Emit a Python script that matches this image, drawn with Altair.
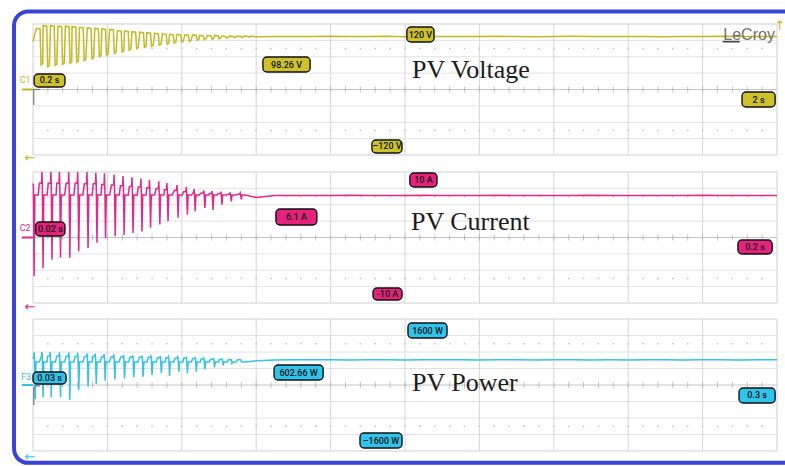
import altair as alt
import numpy as np
import pandas as pd

# ---------------- values ----------------
# PV Voltage (V), channel C1, screen spans -120 V .. 120 V
volt_start = 88
volt_peak_t = [0.009, 0.027, 0.047, 0.067, 0.087, 0.105, 0.125, 0.146, 0.166, 0.185,
               0.206, 0.227, 0.246, 0.266, 0.287, 0.306, 0.327, 0.348, 0.367, 0.387,
               0.408, 0.429, 0.448, 0.469, 0.488, 0.508, 0.529, 0.549, 0.569]
volt_high = [112, 117, 117, 116, 116, 115, 114, 113, 112, 111,
             110, 108, 107, 106, 105, 104, 103, 102, 101, 101,
             100, 100, 99, 99, 99, 98, 98, 98, 98]
volt_low = [45, 42, 44, 46, 48, 50, 53, 56, 60, 63,
            66, 69, 72, 75, 77, 79, 81, 83, 85, 87,
            88, 90, 91, 92, 93, 94, 95, 95, 96]

tail_t = [0.60, 0.65, 0.70, 0.75, 0.80, 0.85, 0.90, 0.95, 1.00, 1.05,
          1.10, 1.15, 1.20, 1.25, 1.30, 1.35, 1.40, 1.45, 1.50, 1.55,
          1.60, 1.65, 1.70, 1.75, 1.80, 1.85, 1.90, 1.95, 2.00]
volt_tail = [96.8, 97.3, 96.9, 97.1, 97.6, 96.9, 97.2, 97.4, 96.8, 97.0,
             97.3, 97.1, 96.9, 97.5, 97.0, 96.8, 97.2, 97.4, 97.0, 96.9,
             97.3, 97.1, 96.8, 97.2, 97.0, 97.4, 96.9, 97.1, 97.0]

# PV Current (A), channel C2, screen spans -10 A .. 10 A
cur_start = 8.0
cur_spike_t = [0.003, 0.027, 0.051, 0.074, 0.099, 0.123, 0.148, 0.172, 0.195, 0.221,
               0.245, 0.269, 0.293, 0.316, 0.341, 0.363, 0.390, 0.415, 0.436, 0.462,
               0.484, 0.508, 0.533, 0.560]
cur_top = [9.9, 10.0, 10.0, 10.0, 10.0, 10.0, 10.0, 9.9, 9.8, 9.6,
           9.4, 9.2, 9.0, 8.8, 8.6, 8.3, 8.0, 7.7, 7.4, 7.2,
           7.1, 7.0, 6.9, 6.8]
cur_plat = [8.2, 8.3, 8.3, 8.3, 8.3, 8.3, 8.2, 8.2, 8.1, 8.0,
            7.9, 7.8, 7.7, 7.6, 7.5, 7.3, 7.2, 7.0, 6.9, 6.8,
            6.7, 6.7, 6.6, 6.6]
cur_low = [-5.9, -4.7, -3.4, -3.1, -3.1, -2.1, -1.6, -0.8, -0.1, 0.2,
           0.4, 0.7, 0.9, 1.5, 2.0, 2.5, 3.0, 3.5, 4.0, 4.5,
           4.2, 5.0, 5.5, 5.8]
cur_mid = 6.5
cur_tail = [6.1, 6.4, 6.4, 6.4, 6.4, 6.45, 6.4, 6.4, 6.4, 6.45,
            6.4, 6.4, 6.4, 6.45, 6.4, 6.4, 6.4, 6.4, 6.45, 6.4,
            6.4, 6.4, 6.4, 6.4, 6.45, 6.4, 6.4, 6.4, 6.4]

# PV Power (W), channel F3, screen spans -1600 W .. 1600 W
pow_start = 640
pow_spike_t = [0.006, 0.027, 0.049, 0.074, 0.099, 0.123, 0.148, 0.170, 0.194, 0.220,
               0.246, 0.271, 0.296, 0.320, 0.345, 0.367, 0.392, 0.415, 0.439, 0.462,
               0.488, 0.511, 0.535, 0.560]
pow_top = [790, 800, 800, 790, 790, 780, 770, 760, 750, 740,
           730, 720, 710, 700, 700, 690, 680, 670, 660, 650,
           640, 630, 620, 615]
pow_plat = [700, 700, 700, 700, 700, 690, 690, 690, 680, 680,
            680, 680, 670, 670, 660, 660, 650, 650, 640, 630,
            625, 620, 615, 610]
pow_low = [-347, -299, -299, -299, -364, -121, -40, 24, 105, 137,
           161, 186, 202, 242, 283, 218, 323, 283, 323, 380,
           428, 477, 525, 566]
pow_mid = 560
pow_tail = [590, 608, 610, 610, 612, 608, 610, 610, 608, 612,
            610, 611, 608, 610, 612, 608, 610, 612, 609, 611,
            608, 612, 610, 608, 611, 610, 608, 611, 610]

# ---------------- build trace tables ----------------
def add(rows, t, v):
    if t > rows[-1][0]:
        rows.append((t, v))

def square_trace(start, peak_t, high, low, tail_v):
    rows = [(0.0, start)]
    for tp, hi, lo in zip(peak_t, high, low):
        add(rows, tp, hi)
        add(rows, tp + 0.010, hi - 1)
        add(rows, tp + 0.0125, lo)
        add(rows, tp + 0.0170, lo + 2)
    for t, v in zip(tail_t, tail_v):
        add(rows, t, v)
    df = pd.DataFrame(rows, columns=["t", "v"])
    df["i"] = range(len(df))
    return df

def spiky_trace(start, spike_t, top, plat, low, mid, tail_v):
    rows = [(0.0, start)]
    for td, tp, pl, lo in zip(spike_t, top, plat, low):
        add(rows, td - 0.010, pl)
        add(rows, td - 0.004, pl)
        add(rows, td - 0.003, tp)
        add(rows, td - 0.002, pl)
        add(rows, td, lo)
        add(rows, td + 0.002, mid)
        add(rows, td + 0.011, mid)
    for t, v in zip(tail_t, tail_v):
        add(rows, t, v)
    df = pd.DataFrame(rows, columns=["t", "v"])
    df["i"] = range(len(df))
    return df

volt_df = square_trace(volt_start, volt_peak_t, volt_high, volt_low, volt_tail)
cur_df = spiky_trace(cur_start, cur_spike_t, cur_top, cur_plat, cur_low, cur_mid, cur_tail)
pow_df = spiky_trace(pow_start, pow_spike_t, pow_top, pow_plat, pow_low, pow_mid, pow_tail)

# ---------------- styling ----------------
YEL, YEL_BOX = "#c4b824", "#cdc22e"
PNK, PNK_BOX = "#e3288a", "#e5237c"
CYN, CYN_BOX = "#33c2e8", "#2fc4ec"
BOX_FONT = "Roboto, Liberation Sans, sans-serif"

XS = alt.Scale(domain=[0, 2], range=[33, 777], nice=False, zero=False)


def panel(m, top, bottom, trace, color, box_fill, boxes, title, chan, extra=None):
    YS = alt.Scale(domain=[-m, m], range=[bottom, top], nice=False, zero=False)
    x = lambda f: alt.X(f, type="quantitative", scale=XS, axis=None)
    y = lambda f: alt.Y(f, type="quantitative", scale=YS, axis=None)
    layers = []
    if extra is not None:
        layers += extra(x, y)

    border = pd.DataFrame({"x1": [0], "x2": [2], "y1": [-m], "y2": [m]})
    layers.append(alt.Chart(border).mark_rect(fill="white", stroke="#cfcfcf", strokeWidth=1)
                  .encode(x=x("x1"), x2="x2", y=y("y1"), y2="y2"))
    hl = pd.DataFrame({"v": [k * m / 4 for k in (-3, -2, -1, 1, 2, 3)], "a": 0, "b": 2})
    layers.append(alt.Chart(hl).mark_rule(color="#e2e2e2", strokeWidth=1)
                  .encode(x=x("a"), x2="b", y=y("v")))
    vl = pd.DataFrame({"t": [0.2 * k for k in range(1, 10)], "a": -m, "b": m})
    layers.append(alt.Chart(vl).mark_rule(color="#d6d6d6", strokeWidth=1)
                  .encode(x=x("t"), y=y("a"), y2="b"))
    cl = pd.DataFrame({"a": [0], "b": [2], "v": [0]})
    layers.append(alt.Chart(cl).mark_rule(color="#c4c4c4", strokeWidth=1)
                  .encode(x=x("a"), x2="b", y=y("v")))
    tk = pd.DataFrame({"t": [0.04 * k for k in range(1, 50)], "v": 0.0})
    layers.append(alt.Chart(tk).mark_tick(orient="vertical", size=6, thickness=1, color="#a9a9a9")
                  .encode(x=x("t"), y=y("v")))
    dots = pd.DataFrame({"t": [0.04 * k for k in range(1, 50)] * 2,
                         "v": [0.625 * m] * 49 + [-0.625 * m] * 49})
    layers.append(alt.Chart(dots).mark_square(size=2, color="#bdbdbd", opacity=1)
                  .encode(x=x("t"), y=y("v")))

    # trace
    layers.append(alt.Chart(trace).mark_line(color=color, strokeWidth=1.5, interpolate="linear")
                  .encode(x=x("t"), y=y("v"), order="i:Q"))

    # channel marker
    cm = pd.DataFrame({"a": [-0.030], "b": [0.0], "v": [0.0]})
    layers.append(alt.Chart(cm).mark_rule(color=color, strokeWidth=2)
                  .encode(x=x("a"), x2="b", y=y("v")))
    ct = pd.DataFrame([chan], columns=["label", "t", "v"])
    layers.append(alt.Chart(ct).mark_text(color=color, fontSize=9, font=BOX_FONT)
                  .encode(x=x("t"), y=y("v"), text="label:N"))

    # boxes
    bx = pd.DataFrame(boxes, columns=["label", "x1", "x2", "y1", "y2"])
    bx["xm"] = (bx.x1 + bx.x2) / 2
    bx["ym"] = (bx.y1 + bx.y2) / 2
    layers.append(alt.Chart(bx).mark_rect(fill=box_fill, stroke="#111111", strokeWidth=1.4,
                                          cornerRadius=4)
                  .encode(x=x("x1"), x2="x2", y=y("y1"), y2="y2"))
    layers.append(alt.Chart(bx).mark_text(color="#111111", fontSize=9, font=BOX_FONT,
                                          fontWeight=500, baseline="middle", align="center")
                  .encode(x=x("xm"), y=y("ym"), text="label:N"))

    # big title
    tt = pd.DataFrame([title], columns=["label", "t", "v"])
    layers.append(alt.Chart(tt).mark_text(color="#1c1c1c", fontSize=26,
                                          font="Liberation Serif, Times New Roman, serif",
                                          align="left", baseline="alphabetic")
                  .encode(x=x("t"), y=y("v"), text="label:N"))
    return alt.layer(*layers)


def extra1(x, y):
    frame = pd.DataFrame({"x1": [-0.051], "x2": [2.3], "y1": [142.9], "y2": [-684.0]})
    return [alt.Chart(frame).mark_rect(fill="white", stroke="#3a43d8", strokeWidth=4,
                                       cornerRadius=14)
            .encode(x=x("x1"), x2="x2", y=y("y1"), y2="y2")]


p1 = panel(120, 24, 155, volt_df, YEL, YEL_BOX,
           [("0.2 s", 0.003, 0.086, 28.4, 4.6),
            ("98.26 V", 0.618, 0.745, 59.5, 32.1),
            ("120 V", 1.005, 1.078, 114.5, 87.0),
            ("–120 V", 0.911, 0.992, -92.5, -116.3),
            ("2 s", 1.906, 1.995, -4.6, -32.1)],
           ("PV Voltage", 1.019, 20.5), ("C1", -0.021, 17.4), extra=extra1)

p2 = panel(10, 172, 303, cur_df, PNK, PNK_BOX,
           [("0.02 s", 0.007, 0.086, 2.37, 0.23),
            ("6.1 A", 0.653, 0.763, 4.35, 1.91),
            ("10 A", 1.013, 1.086, 9.85, 7.71),
            ("-10 A", 0.914, 0.992, -7.71, -9.54),
            ("0.2 s", 1.895, 1.987, -0.38, -2.52)],
           ("PV Current", 1.016, 1.07), ("C2", -0.021, 1.45))

p3 = panel(1600, 319, 451, pow_df, CYN, CYN_BOX,
           [("0.03 s", 0.0, 0.089, 315, 24),
            ("602.66 W", 0.648, 0.780, 485, 121),
            ("1600 W", 1.008, 1.113, 1503, 1139),
            ("–1600 W", 0.879, 0.992, -1164, -1527),
            ("0.3 s", 1.898, 1.995, -73, -436)],
           ("PV Power", 1.019, -145), ("F3", -0.019, 194))

# ---- small overlays (markers, arrows, logo) in each panel's own units ----
def overlay(m, top, bottom, rules, texts):
    YS = alt.Scale(domain=[-m, m], range=[bottom, top], nice=False, zero=False)
    x = lambda f: alt.X(f, type="quantitative", scale=XS, axis=None)
    y = lambda f: alt.Y(f, type="quantitative", scale=YS, axis=None)
    ls = []
    if rules:
        r = pd.DataFrame(rules, columns=["a", "b", "c", "d", "color", "w"])
        ls.append(alt.Chart(r).mark_rule().encode(
            x=x("a"), x2="b", y=y("c"), y2="d",
            color=alt.Color("color:N", scale=None),
            strokeWidth=alt.StrokeWidth("w:Q", scale=None)))
    if texts:
        tx = pd.DataFrame(texts, columns=["label", "t", "v", "color", "size", "font"])
        for _, row in tx.iterrows():
            ls.append(alt.Chart(pd.DataFrame([row])).mark_text(
                color=row["color"], fontSize=float(row["size"]), font=row["font"],
                align="center", baseline="middle")
                .encode(x=x("t"), y=y("v"), text="label:N"))
    return alt.layer(*ls)

SANS = "DejaVu Sans, sans-serif"
o1 = overlay(120, 24, 155,
             [(0.002, 0.002, 0.0, -28.4, "#777777", 1.2),
              (0.002, 0.019, 0.0, 0.0, "#777777", 1.2),
              (1.854, 1.90, 87.6, 87.6, "#444444", 1.6)],
             [("↑", 2.007, 116, YEL, 13, SANS),
              ("←", -0.008, -125.5, YEL, 13, SANS),
              ("LeCroy", 1.925, 99, "#6f6f6f", 16, "Liberation Sans, Arial, sans-serif")])
o2 = overlay(10, 172, 303,
             [(0.002, 0.002, 0.0, -2.1, "#777777", 1.2)],
             [("←", -0.008, -10.57, PNK, 13, SANS)])
o3 = overlay(1600, 319, 451,
             [(0.002, 0.002, -48, -485, "#777777", 1.2),
              (0.002, 0.019, -24, -24, "#777777", 1.2)],
             [("←", -0.008, -1738, CYN, 13, SANS)])

g1 = alt.layer(p1, o1)
g2 = alt.layer(p2, o2)
g3 = alt.layer(p3, o3)

chart = (alt.layer(g1, g2, g3)
         .resolve_scale(y="independent")
         .properties(width=785, height=466, padding=0,
                     autosize=alt.AutoSizeParams(type="none"),
                     background="white")
         .configure_view(strokeWidth=0))

chart.save("out.html", embed_options={"renderer": "svg", "actions": False})
